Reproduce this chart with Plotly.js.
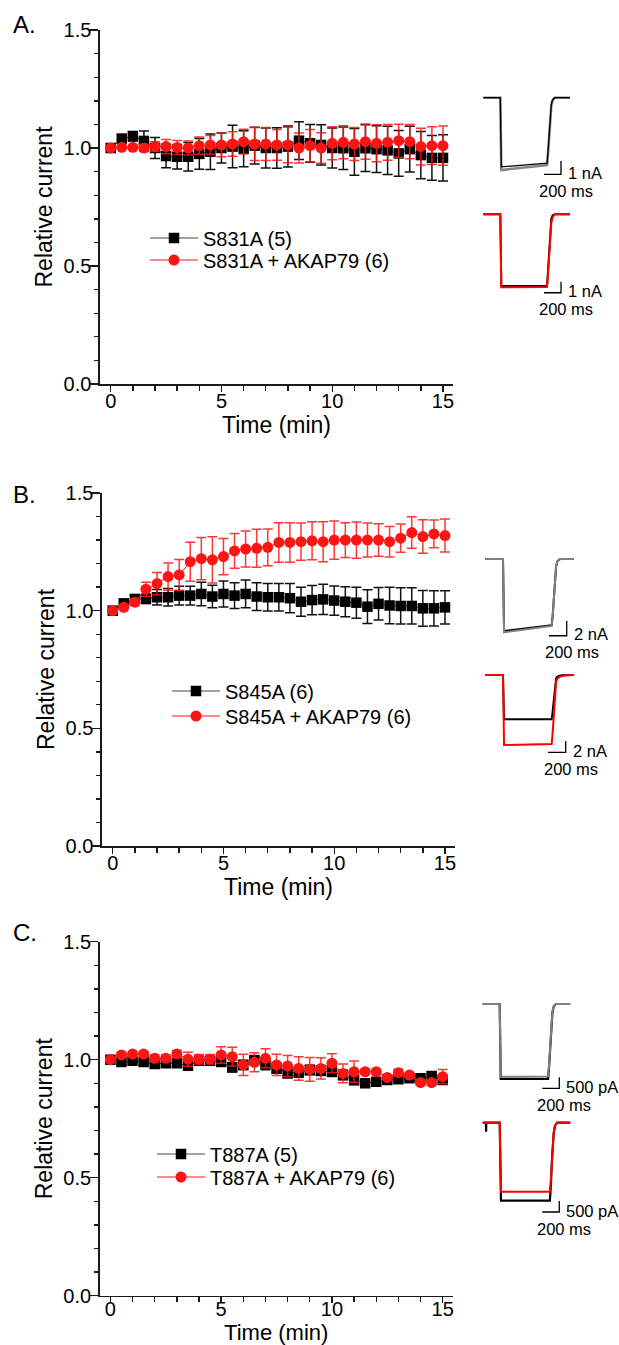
<!DOCTYPE html>
<html><head><meta charset="utf-8">
<script src="https://cdn.plot.ly/plotly-3.0.1.min.js"></script>
<style>html,body{margin:0;padding:0;background:#fff}#chart{width:619px;height:1345px}</style>
</head><body><div id="chart"></div>
<script>
// ---------------- data: time course (min) ----------------
const timeMin = [0,0.5,1,1.5,2,2.5,3,3.5,4,4.5,5,5.5,6,6.5,7,7.5,8,8.5,9,9.5,10,10.5,11,11.5,12,12.5,13,13.5,14,14.5,15];

const namesA = ['S831A (5)', 'S831A + AKAP79 (6)'];
const s831A = [1.00,1.04,1.05,1.03,1.00,0.966,0.963,0.963,0.975,0.984,1.00,1.006,0.997,1.01,1.0,1.0,1.006,1.031,1.02,1.013,1.0,0.999,0.984,0.999,0.995,0.99,0.977,0.995,0.97,0.958,0.958];
const s831AErr = [0,0.015,0.02,0.042,0.044,0.05,0.052,0.06,0.065,0.075,0.064,0.09,0.076,0.078,0.085,0.086,0.087,0.08,0.08,0.085,0.085,0.09,0.099,0.099,0.099,0.102,0.097,0.097,0.1,0.095,0.098];
const s831AAkap = [1.0,1.003,1.003,1.0,1.006,1.006,1.002,1.0,1.01,1.013,1.013,1.017,1.027,1.017,1.017,1.013,1.013,1.0,1.01,1.0,1.02,1.024,1.017,1.027,1.02,1.024,1.031,1.027,1.006,1.01,1.01];
const s831AAkapErr = [0,0.008,0.01,0.015,0.02,0.03,0.03,0.03,0.037,0.04,0.05,0.052,0.052,0.07,0.07,0.065,0.075,0.064,0.068,0.065,0.07,0.07,0.07,0.075,0.078,0.076,0.07,0.073,0.078,0.08,0.083];

const namesB = ['S845A (6)', 'S845A + AKAP79 (6)'];
const s845A = [1.0,1.031,1.05,1.05,1.057,1.057,1.064,1.064,1.071,1.06,1.071,1.064,1.071,1.06,1.057,1.057,1.053,1.038,1.045,1.048,1.043,1.038,1.034,1.017,1.029,1.022,1.02,1.02,1.01,1.01,1.014];
const s845AErr = [0,0.01,0.015,0.02,0.033,0.037,0.04,0.04,0.05,0.048,0.055,0.055,0.059,0.059,0.058,0.058,0.062,0.062,0.062,0.064,0.062,0.064,0.066,0.072,0.069,0.078,0.077,0.077,0.076,0.075,0.071];
const s845AAkap = [1.0,1.014,1.036,1.091,1.115,1.145,1.152,1.208,1.221,1.216,1.23,1.254,1.262,1.265,1.269,1.29,1.29,1.293,1.297,1.293,1.30,1.30,1.30,1.30,1.30,1.293,1.308,1.332,1.315,1.326,1.319];
const s845AAkapErr = [0,0.01,0.015,0.03,0.047,0.058,0.065,0.083,0.09,0.098,0.077,0.074,0.076,0.081,0.078,0.084,0.084,0.079,0.081,0.085,0.081,0.074,0.077,0.072,0.069,0.065,0.06,0.067,0.071,0.059,0.07];

const namesC = ['T887A (5)', 'T887A + AKAP79 (6)'];
const t887A = [1.0,0.99,0.996,0.99,0.982,0.985,0.985,0.975,0.996,0.996,0.991,0.968,0.978,0.999,0.982,0.963,0.942,0.945,0.956,0.953,0.949,0.935,0.914,0.9,0.907,0.914,0.917,0.921,0.921,0.931,0.914];
const t887AErr = [0,0.01,0.01,0.01,0.015,0.015,0.015,0.02,0.01,0.01,0.02,0.02,0.02,0.015,0.025,0.02,0.015,0.015,0.02,0.02,0.02,0.02,0.02,0.01,0.01,0.01,0.01,0.01,0.01,0.01,0.01];
const t887AAkap = [1.0,1.02,1.024,1.024,1.006,1.006,1.024,1.002,1.002,1.002,1.02,1.013,0.978,0.989,1.006,0.978,0.973,0.963,0.959,0.963,0.985,0.942,0.949,0.949,0.949,0.925,0.945,0.935,0.903,0.903,0.928];
const t887AAkapErr = [0,0.01,0.01,0.01,0.015,0.015,0.015,0.03,0.02,0.02,0.035,0.04,0.045,0.04,0.04,0.045,0.045,0.05,0.05,0.045,0.04,0.04,0.045,0.01,0.01,0.01,0.015,0.01,0.01,0.01,0.03];

const yTickVals = [0, 0.5, 1.0, 1.5];
const xTickVals = [0, 5, 10, 15];

// ---------------- data: example current traces (ms, nA / pA) ----------------
const trA1_grey_t = [0,200,212,750,760,780,800,815,840,1020];
const trA1_grey_i = [0,0,-5.44,-5.06,-4.3,-2.2,-0.6,-0.2,0,0];
const trA1_black_t = [0,200,212,750,760,780,800,815,840,1020];
const trA1_black_i = [0,0,-5.2,-4.93,-4.2,-2.1,-0.5,-0.15,0,0];
const trA2_black_t = [0,200,212,750,760,780,800,815,840,1020];
const trA2_black_i = [0,0,-6.52,-6.5,-5.3,-2.2,-0.4,-0.1,0,0];
const trA2_red_t = [0,200,212,750,760,780,800,815,840,1020];
const trA2_red_i = [0,0,-6.64,-6.6,-5.6,-2.8,-0.8,-0.3,0,0];

const trB1_black_t = [0,200,212,750,760,780,800,815,845,1000];
const trB1_black_i = [0,0,-9.8,-9.0,-7.9,-3.9,-1.0,-0.3,0,0];
const trB1_grey_t = [0,200,212,750,760,780,800,815,845,1000];
const trB1_grey_i = [0,0,-9.97,-9.1,-8.0,-4.0,-1.0,-0.3,0,0];
const trB2_black_t = [0,200,212,750,760,780,800,815,850,900,1000];
const trB2_black_i = [0,0,-7.84,-7.84,-6.6,-3.0,-0.6,-0.3,-0.1,0,0];
const trB2_red_t = [0,200,212,750,760,780,800,815,850,900,1000];
const trB2_red_i = [0,0,-12.39,-12.21,-10.5,-5.0,-1.2,-0.6,-0.25,-0.1,0];

const trC1_grey_t = [0,200,212,770,780,800,820,835,860,1030];
const trC1_grey_i = [0,0,-3305,-3290,-2800,-1400,-350,-100,0,0];
const trC1_black_t = [0,200,212,770,780,800,820,835,860,1030];
const trC1_black_i = [0,0,-3409,-3400,-2900,-1500,-400,-120,0,0];
const trC2_black_t = [0,38,40,42,200,215,790,800,815,835,850,875,1030];
const trC2_black_i = [0,0,-409,0,0,-3545,-3545,-3000,-1700,-500,-150,0,0];
const trC2_red_t = [0,200,215,790,800,815,835,850,875,1030];
const trC2_red_i = [0,0,-3136,-3136,-2700,-1500,-450,-130,0,0];

// scale bars: corner (ms, current), lengths
const barTimeMs = 200;
const barsCorner = [[914,-5.76],[914,-7.13],[920,-10.44],[908,-13.68],[901,-3832],[901,-4059]];
const barsAmp = [1,1,2,2,500,500];
const barsAmpText = ['1 nA','1 nA','2 nA','2 nA','500 pA','500 pA'];

// ---------------- layout helpers ----------------
const W = 619, H = 1345;
const fx = p => p / W, fy = p => 1 - p / H;
const FONT = 'Liberation Sans, Arial, Helvetica, sans-serif';
const RED = '#ff1414';

const panels = [
  {ctrl:s831A, ctrlErr:s831AErr, akap:s831AAkap, akapErr:s831AAkapErr, names:namesA, left:100, top:30, bottom:384, legX:145, legY:[238,260], label:'A.', labelY:25, xtSize:23, tlso:-8},
  {ctrl:s845A, ctrlErr:s845AErr, akap:s845AAkap, akapErr:s845AAkapErr, names:namesB, left:102, top:493, bottom:846, legX:167, legY:[691,716], label:'B.', labelY:495, xtSize:23, tlso:-8},
  {ctrl:t887A, ctrlErr:t887AErr, akap:t887AAkap, akapErr:t887AAkapErr, names:namesC, left:99.7, top:941.7, bottom:1295.7, legX:152, legY:[1154,1177], label:'C.', labelY:932, xtSize:22, tlso:-11}
];

const traces = [];
const layout = {
  width: W, height: H, margin: {l:0, r:0, t:0, b:0},
  paper_bgcolor: '#fff', plot_bgcolor: 'rgba(0,0,0,0)',
  font: {family: FONT, color: '#000'},
  showlegend: true, annotations: []
};

const pxPerMin = 22.153, zeroOff = 10.7, plotW = 353;
panels.forEach((p, k) => {
  const n = k + 1;
  const xa = 'xaxis' + (n === 1 ? '' : n), ya = 'yaxis' + (n === 1 ? '' : n);
  const xr = 'x' + (n === 1 ? '' : n), yr = 'y' + (n === 1 ? '' : n);
  layout[xa] = {
    domain: [fx(p.left), fx(p.left + plotW)], anchor: yr,
    range: [-zeroOff / pxPerMin, (plotW - zeroOff) / pxPerMin],
    showgrid: false, zeroline: false, showline: true, linecolor: '#1a1a1a', linewidth: 1.6,
    ticks: 'outside', tickvals: xTickVals, ticklen: 6, tickwidth: 1.4, tickcolor: '#1a1a1a',
    minor: {dtick: 1, ticks: 'outside', ticklen: 5, tickwidth: 1.4, tickcolor: '#1a1a1a', showgrid: false},
    tickfont: {size: 20, family: FONT, color: '#000'}, ticklabelstandoff: p.tlso,
    title: {text: 'Time (min)', font: {size: p.xtSize, family: FONT, color: '#000'}, standoff: 0},
    fixedrange: true
  };
  layout[ya] = {
    domain: [fy(p.bottom), fy(p.top)], anchor: xr,
    range: [0, 1.5], showgrid: false, zeroline: false, showline: true, linecolor: '#1a1a1a', linewidth: 1.6,
    ticks: 'outside', tickvals: yTickVals, tickformat: '.1f', ticklen: 8, tickwidth: 1.4, tickcolor: '#1a1a1a',
    minor: {dtick: 0.1, ticks: 'outside', ticklen: 4, tickwidth: 1.4, tickcolor: '#1a1a1a', showgrid: false},
    tickfont: {size: 20, family: FONT, color: '#000'}, ticklabelstandoff: -5,
    title: {text: 'Relative current', font: {size: 23, family: FONT, color: '#000'}, standoff: 4},
    fixedrange: true
  };
  const lgA = 'legend' + (2 * k === 0 ? '' : 2 * k + 1);
  const lgB = 'legend' + (2 * k + 2);
  [lgA, lgB].forEach((lg, j) => {
    layout[lg] = {
      x: fx(p.legX), xanchor: 'left', y: fy(p.legY[j]), yanchor: 'middle',
      bgcolor: 'rgba(0,0,0,0)', borderwidth: 0, itemwidth: 48,
      font: {size: 20, family: FONT, color: '#000'}
    };
  });
  traces.push({
    type: 'scatter', mode: 'lines+markers', x: timeMin, y: p.ctrl, xaxis: xr, yaxis: yr,
    name: p.names[0], legend: lgA,
    line: {color: '#444', width: 1},
    marker: {symbol: 'square', size: 10.5, color: '#000', line: {width: 0}},
    error_y: {type: 'data', array: p.ctrlErr, visible: true, color: '#111', thickness: 1.5, width: 5},
    hoverinfo: 'skip'
  });
  traces.push({
    type: 'scatter', mode: 'lines+markers', x: timeMin, y: p.akap, xaxis: xr, yaxis: yr,
    name: p.names[1], legend: lgB,
    line: {color: RED, width: 1},
    marker: {symbol: 'circle', size: 11, color: RED, line: {width: 0}},
    error_y: {type: 'data', array: p.akapErr, visible: true, color: 'rgba(255,20,20,0.85)', thickness: 1.5, width: 5},
    hoverinfo: 'skip'
  });
  layout.annotations.push({
    xref: 'paper', yref: 'paper', x: fx(11), y: fy(p.labelY), xanchor: 'left', yanchor: 'middle',
    text: p.label, showarrow: false, font: {size: 24, family: FONT, color: '#000'}
  });
});

// ---------------- insets ----------------
// origin px (t = 0), baseline py (I = 0), px per ms, px per current unit, box
const insets = [
  {ox:483.3, oy:97.7,   sx:0.085,  sy:13.3,  box:[470,619,80,200],
   tr:[[trA1_grey_t,trA1_grey_i,'#858585',2.6],[trA1_black_t,trA1_black_i,'#000',1.3]]},
  {ox:483.3, oy:214.3,  sx:0.085,  sy:11.0,  box:[470,619,200,320],
   tr:[[trA2_black_t,trA2_black_i,'#000',2],[trA2_red_t,trA2_red_i,'#ff0000',2]]},
  {ox:485.3, oy:559,    sx:0.0885, sy:7.35,  box:[470,619,540,660],
   tr:[[trB1_black_t,trB1_black_i,'#000',2],[trB1_grey_t,trB1_grey_i,'#808080',2]]},
  {ox:485.3, oy:675,    sx:0.0885, sy:5.65,  box:[470,619,660,780],
   tr:[[trB2_black_t,trB2_black_i,'#000',2],[trB2_red_t,trB2_red_i,'#ff0000',2]]},
  {ox:482.7, oy:1004,   sx:0.085,  sy:0.022, box:[470,619,985,1110],
   tr:[[trC1_black_t,trC1_black_i,'#000',2.2],[trC1_grey_t,trC1_grey_i,'#808080',2]]},
  {ox:482.7, oy:1122.7, sx:0.085,  sy:0.022, box:[470,619,1110,1235],
   tr:[[trC2_black_t,trC2_black_i,'#000',2.2],[trC2_red_t,trC2_red_i,'#ff0000',2]]}
];

insets.forEach((s, k) => {
  const n = k + 4;
  const [x0, x1, y0, y1] = s.box;
  layout['xaxis' + n] = {domain: [fx(x0), fx(x1)], range: [(x0 - s.ox) / s.sx, (x1 - s.ox) / s.sx],
    visible: false, fixedrange: true, anchor: 'y' + n};
  layout['yaxis' + n] = {domain: [fy(y1), fy(y0)], range: [(s.oy - y1) / s.sy, (s.oy - y0) / s.sy],
    visible: false, fixedrange: true, anchor: 'x' + n};
  s.tr.forEach(([t, i, c, w]) => traces.push({
    type: 'scatter', mode: 'lines', x: t, y: i, xaxis: 'x' + n, yaxis: 'y' + n,
    line: {color: c, width: w}, showlegend: false, hoverinfo: 'skip'
  }));
  const [ct, ci] = barsCorner[k];
  traces.push({
    type: 'scatter', mode: 'lines', xaxis: 'x' + n, yaxis: 'y' + n,
    x: [ct - barTimeMs, ct, ct], y: [ci, ci, ci + barsAmp[k]],
    line: {color: '#000', width: 1.3}, showlegend: false, hoverinfo: 'skip'
  });
  layout.annotations.push({
    xref: 'x' + n, yref: 'y' + n, x: ct + 5 / s.sx, y: ci + 1.5 / s.sy, xanchor: 'left', yanchor: 'middle',
    text: barsAmpText[k], showarrow: false, font: {size: 16.5, family: FONT, color: '#000'}
  });
  layout.annotations.push({
    xref: 'x' + n, yref: 'y' + n, x: ct + 5 / s.sx, y: ci - 16.5 / s.sy, xanchor: 'center', yanchor: 'middle',
    text: '200 ms', showarrow: false, font: {size: 16.5, family: FONT, color: '#000'}
  });
});

Plotly.newPlot('chart', traces, layout, {staticPlot: true, displayModeBar: false});
</script>
</body></html>
